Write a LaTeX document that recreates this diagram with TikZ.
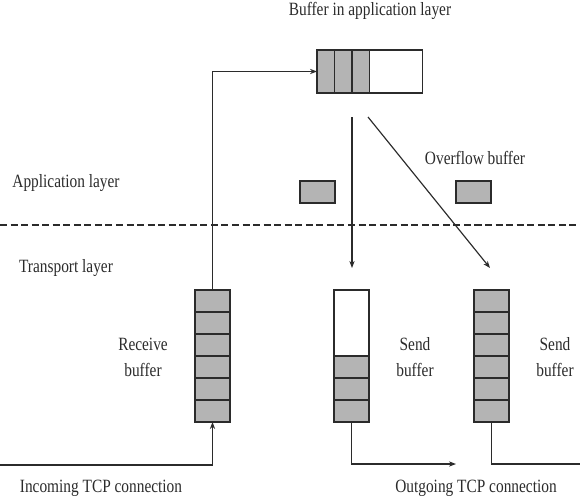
\documentclass[tikz,border=0pt]{standalone}
\usepackage{fontspec}
\setmainfont{Liberation Serif}[FakeStretch=0.82]
\usepackage{tikz}
\usetikzlibrary{arrows.meta, positioning, calc}
\definecolor{relleno}{HTML}{B4B4B4}
\definecolor{trazo}{HTML}{2B2B2B}
\tikzset{
  every picture/.style={font=\fontsize{16}{22}\selectfont, >=Stealth},
  cellg/.style={draw=trazo, fill=relleno, line width=1pt, minimum width=1.05cm,
              minimum height=0.66cm, inner sep=0pt, outer sep=0pt},
  cellw/.style={cellg, fill=white},
  conn/.style={-{Stealth[length=6pt,width=4.5pt]}, line width=1pt, trazo},
  lbl/.style={text=trazo, align=center, inner sep=0pt},
}

\begin{document}
\begin{tikzpicture}[x=0.03cm, y=-0.03cm]
  \useasboundingbox (0,0) rectangle (580,498);
  % buffer in the application layer
  \foreach \i in {1,2,3}
    \node[cellg, minimum width=0.525cm, minimum height=1.29cm] (ab\i) at (308.25+17.5*\i,71.5) {};
  \node[cellw, minimum width=1.59cm, minimum height=1.29cm] (ab4) at (395.75,71.5) {};
  \node[lbl] (tit) at (370,11) {Buffer in application layer};
  % overflow
  \node[cellg] (ov1) at (317.5,192) {};
  \node[cellg] (ov2) at (473.5,192) {};
  \node[lbl] (ovl) at (475,158) {Overflow buffer};
  % layers
  \node[lbl] (appl) at (66,183) {Application layer};
  \node[lbl] (trl) at (66,268) {Transport layer};
  \coordinate (sepl) at (0,225);
  \coordinate (sepr) at (580,225);
  \draw[trazo, line width=1pt, dash pattern=on 6pt off 3pt] (sepl) -- (sepr);
  % receive buffer
  \foreach \i in {0,...,5}
    \node[cellg] (rb\i) at (212.5,301+22*\i) {};
  \node[lbl] (rbl) at (143,357) {Receive\\buffer};
  % send buffers
  \node[cellw, minimum height=1.98cm] (sa0) at (351.5,323) {};
  \foreach \i in {1,2,3}
    \node[cellg] (sa\i) at (351.5,345+22*\i) {};
  \node[lbl] (sal) at (415,357) {Send\\buffer};
  \foreach \i in {0,...,5}
    \node[cellg] (sb\i) at (491.5,301+22*\i) {};
  \node[lbl] (sbl) at (555,357) {Send\\buffer};
  % connections
  \coordinate (inc) at (0,465);
  \coordinate (out1) at (456,464);
  \coordinate (out2) at (580,464);
  \coordinate (d1) at (352,117);
  \coordinate (d2) at (352,268);
  \coordinate (e1) at (368,117);
  \coordinate (e2) at (490,268);
  \draw[conn] (inc) -| (rb5.south);
  \draw[conn] (rb0.north) |- (ab1.west);
  \draw[conn] (d1) -- (d2);
  \draw[conn] (e1) -- (e2);
  \draw[conn] (sa3.south) |- (out1);
  \draw[trazo, line width=1pt] (sb5.south) |- (out2);
  \node[lbl] (incl) at (101,488) {Incoming TCP connection};
  \node[lbl] (outl) at (476,488) {Outgoing TCP connection};
\end{tikzpicture}
\end{document}
